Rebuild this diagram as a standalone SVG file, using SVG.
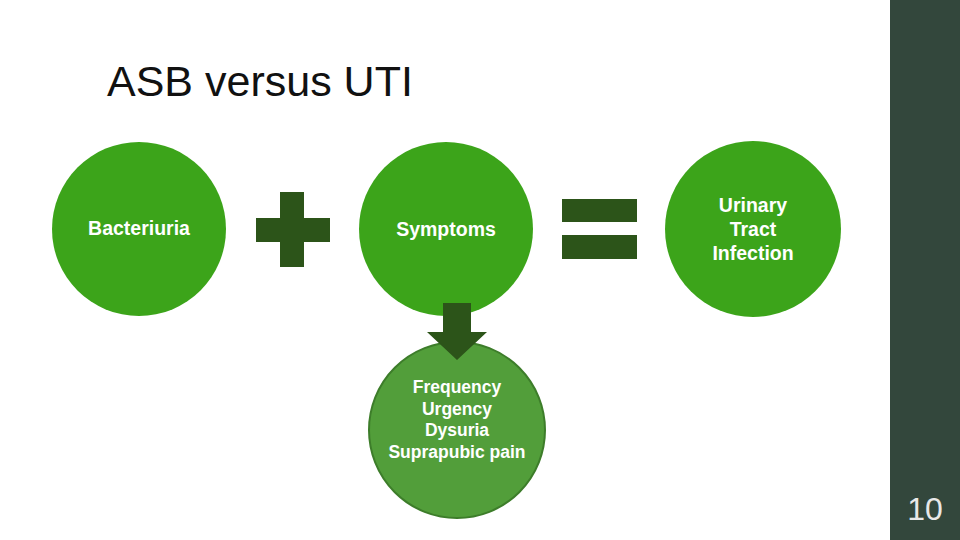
<svg xmlns="http://www.w3.org/2000/svg" width="960" height="540" viewBox="0 0 960 540">
<style>
.c{fill:#3ca41a}
.d{fill:#2c5419}
.t{font-family:"Liberation Sans",Arial,sans-serif;font-weight:bold;font-size:19.5px;fill:#fff;text-anchor:middle}
.s{font-family:"Liberation Sans",Arial,sans-serif;font-weight:bold;font-size:17.5px;fill:#fff;text-anchor:middle}
</style>
<rect width="960" height="540" fill="#fff"/>
<rect x="890" y="0" width="70" height="540" fill="#33473c"/>
<text x="925" y="520" font-family="Liberation Sans,Arial,sans-serif" font-size="32" fill="#e8e8e8" text-anchor="middle">10</text>
<text x="107" y="96" font-family="Liberation Sans,Arial,sans-serif" font-size="43" fill="#111">ASB versus UTI</text>
<g id="bacteriuria"><circle class="c" cx="139" cy="229" r="87"/><text class="t" x="139" y="235">Bacteriuria</text></g>
<g id="plus"><rect class="d" x="280" y="192" width="24" height="75"/><rect class="d" x="256" y="218" width="74" height="24"/></g>
<g id="symptoms"><circle class="c" cx="446" cy="229" r="87"/><text class="t" x="446" y="236">Symptoms</text></g>
<g id="equals"><rect class="d" x="562" y="199" width="75" height="23"/><rect class="d" x="562" y="235" width="75" height="24"/></g>
<g id="uti"><circle class="c" cx="753" cy="229" r="88"/><text class="t" x="753" y="212">Urinary</text><text class="t" x="753" y="236">Tract</text><text class="t" x="753" y="260">Infection</text></g>
<g id="list"><circle cx="457" cy="430" r="88" fill="#529e3a" stroke="#3d7d2a" stroke-width="2"/>
<text class="s" x="457" y="393">Frequency</text><text class="s" x="457" y="415">Urgency</text><text class="s" x="457" y="436">Dysuria</text><text class="s" x="457" y="458">Suprapubic pain</text></g>
<g id="connectors"><polygon class="d" points="443,303 471,303 471,332 487,332 457,360 427,332 443,332"/></g>
</svg>
